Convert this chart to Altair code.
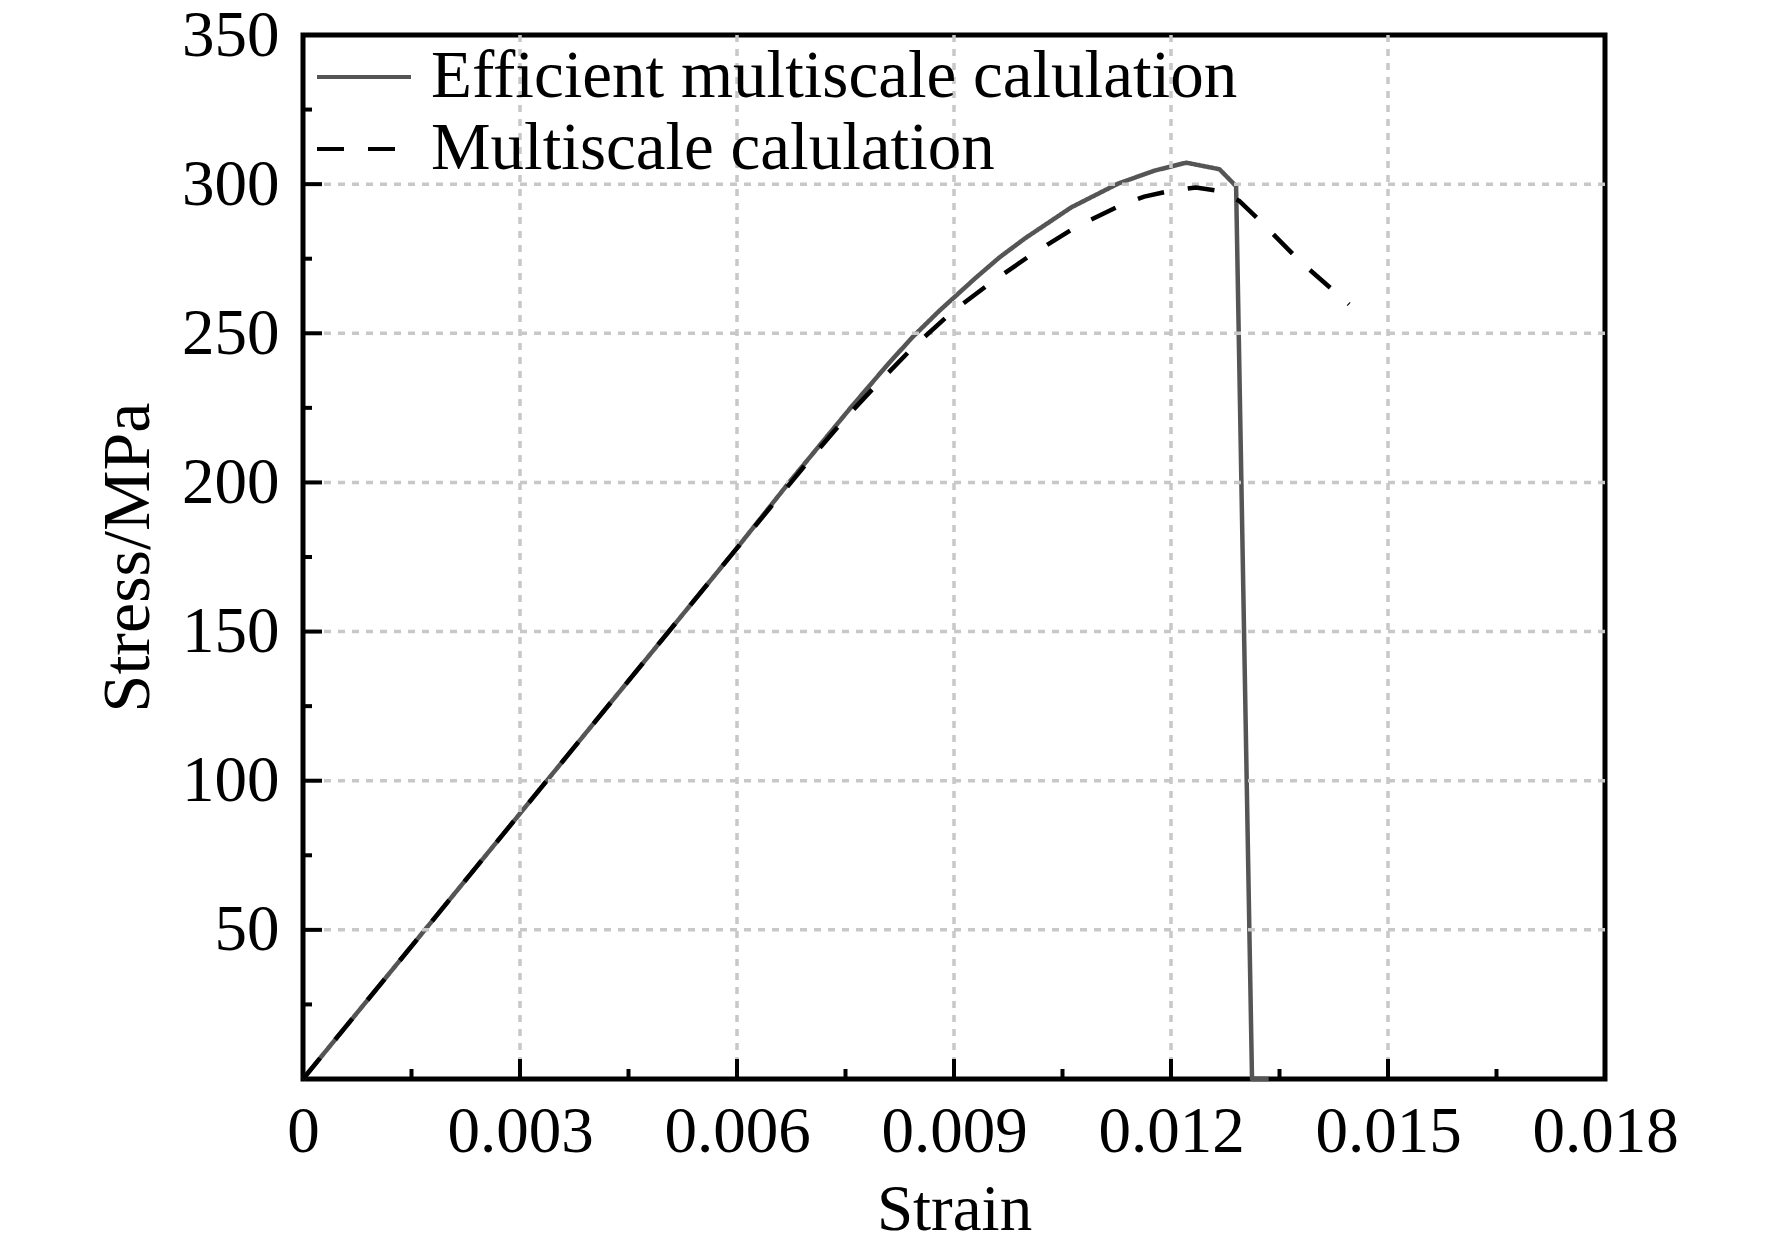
import altair as alt
import pandas as pd

# ---- data ----
strain_eff = [0, 0.0030, 0.0060, 0.00672, 0.00758, 0.0081, 0.00843, 0.0088, 0.009305, 0.009627,
              0.00998, 0.01062, 0.01127, 0.01177, 0.01221, 0.01267, 0.0129, 0.01312, 0.01335]
stress_eff = [0, 89, 178, 200, 225.3, 240, 248.8, 257.6, 268.7, 275.4,
              281.8, 292.2, 300.2, 304.5, 307.2, 305.0, 299.3, 0, 0]

strain_ms = [0, 0.0030, 0.0060, 0.0070, 0.00746, 0.00792, 0.00843, 0.00898, 0.0095, 0.01009,
             0.010689, 0.01131, 0.01163, 0.0120, 0.012345, 0.012644, 0.012943, 0.013196,
             0.01379, 0.014462]
stress_ms = [0, 89, 178, 207.5, 220.5, 232.5, 245.2, 257.3, 266.8, 276.7,
             285.7, 293.0, 295.8, 297.8, 298.9, 297.8, 294.4, 288.5,
             274, 259.7]

series_names = ["Efficient multiscale calulation", "Multiscale calulation"]
series_colors = ["#555555", "#000000"]

x_labels = [0, 0.003, 0.006, 0.009, 0.012, 0.015, 0.018]
y_labels = [50, 100, 150, 200, 250, 300, 350]
x_grid = [0.003, 0.006, 0.009, 0.012, 0.015]
y_grid = [50, 100, 150, 200, 250, 300]
x_minor = [0.0015, 0.0045, 0.0075, 0.0105, 0.0135, 0.0165]
y_minor = [25, 75, 125, 175, 225, 275, 325]

# ---- layout ----
W, H = 1302, 1044
FONT = "Liberation Serif"

df_eff = pd.DataFrame({"strain": strain_eff, "stress": stress_eff,
                       "series": series_names[0], "i": range(len(strain_eff))})
df_ms = pd.DataFrame({"strain": strain_ms, "stress": stress_ms,
                      "series": series_names[1], "i": range(len(strain_ms))})

xscale = alt.Scale(domain=[0, 0.018], nice=False, zero=False)
yscale = alt.Scale(domain=[0, 350], nice=False, zero=False)

x_axis = alt.Axis(values=x_labels, format="~g", title="Strain", grid=False, ticks=False,
                  tickSize=0, domain=False, labelFont=FONT, labelFontSize=65,
                  labelColor="black", labelPadding=72, labelBaseline="alphabetic",
                  labelFlush=False, labelOverlap=False,
                  titleFont=FONT, titleFontSize=65, titleFontWeight="normal",
                  titleColor="black", titleBaseline="alphabetic", titleY=150)
y_axis = alt.Axis(values=y_labels, format="d", title="Stress/MPa", grid=False, ticks=False,
                  tickSize=0, domain=False, labelFont=FONT, labelFontSize=65,
                  labelColor="black", labelPadding=24, labelFlush=False, labelOverlap=False,
                  titleFont=FONT, titleFontSize=68, titleFontWeight="normal",
                  titleColor="black", titleBaseline="alphabetic", titleX=-155,
                  titleY=H / 2, titleAlign="center", titleAngle=270)

legend = alt.Legend(title=None, orient="none", legendX=12, legendY=-7,
                    labelFont=FONT, labelFontSize=67, labelColor="black",
                    labelLimit=2000, symbolType="stroke", symbolSize=94 * 94,
                    symbolStrokeWidth=4, labelOffset=18, rowPadding=-10, padding=0,
                    gridAlign="none")

color_enc = alt.Color("series:N", scale=alt.Scale(domain=series_names, range=series_colors),
                      legend=legend)
dash_enc = alt.StrokeDash("series:N",
                          scale=alt.Scale(domain=series_names, range=[[1, 0], [27, 24]]),
                          legend=legend)

# grid lines
gx = alt.Chart(pd.DataFrame({"v": x_grid})).mark_rule(
    color="#c8c8c8", strokeWidth=3.5, strokeDash=[7, 7]).encode(
    x=alt.X("v:Q", scale=xscale))
gy = alt.Chart(pd.DataFrame({"v": y_grid})).mark_rule(
    color="#c8c8c8", strokeWidth=3.5, strokeDash=[7, 7]).encode(
    y=alt.Y("v:Q", scale=yscale))

# inward ticks
tx_major = alt.Chart(pd.DataFrame({"v": x_grid})).mark_rule(color="black", strokeWidth=4).encode(
    x=alt.X("v:Q", scale=xscale), y=alt.value(H), y2=alt.value(H - 20))
tx_minor = alt.Chart(pd.DataFrame({"v": x_minor})).mark_rule(color="black", strokeWidth=4).encode(
    x=alt.X("v:Q", scale=xscale), y=alt.value(H), y2=alt.value(H - 10))
ty_major = alt.Chart(pd.DataFrame({"v": y_grid})).mark_rule(color="black", strokeWidth=4).encode(
    y=alt.Y("v:Q", scale=yscale), x=alt.value(0), x2=alt.value(19))
ty_minor = alt.Chart(pd.DataFrame({"v": y_minor})).mark_rule(color="black", strokeWidth=4).encode(
    y=alt.Y("v:Q", scale=yscale), x=alt.value(0), x2=alt.value(9))

line_eff = alt.Chart(df_eff).mark_line(strokeWidth=4.5, strokeJoin="round").encode(
    x=alt.X("strain:Q", scale=xscale, axis=x_axis),
    y=alt.Y("stress:Q", scale=yscale, axis=y_axis),
    order="i:Q", color=color_enc, strokeDash=dash_enc)
line_ms = alt.Chart(df_ms).mark_line(strokeWidth=4.5).encode(
    x=alt.X("strain:Q", scale=xscale),
    y=alt.Y("stress:Q", scale=yscale),
    order="i:Q", color=color_enc, strokeDash=dash_enc)

chart = alt.layer(line_eff, gx, gy, tx_major, tx_minor, ty_major, ty_minor, line_ms).properties(
    width=W, height=H,
    autosize=alt.AutoSizeParams(type="none"),
    padding={"left": 295, "top": 27, "right": 159, "bottom": 165},
).configure(font=FONT, background="white",
            view=alt.ViewConfig(stroke="black", strokeWidth=5))

chart.save("out.html", embed_options={"renderer": "svg", "actions": False})
